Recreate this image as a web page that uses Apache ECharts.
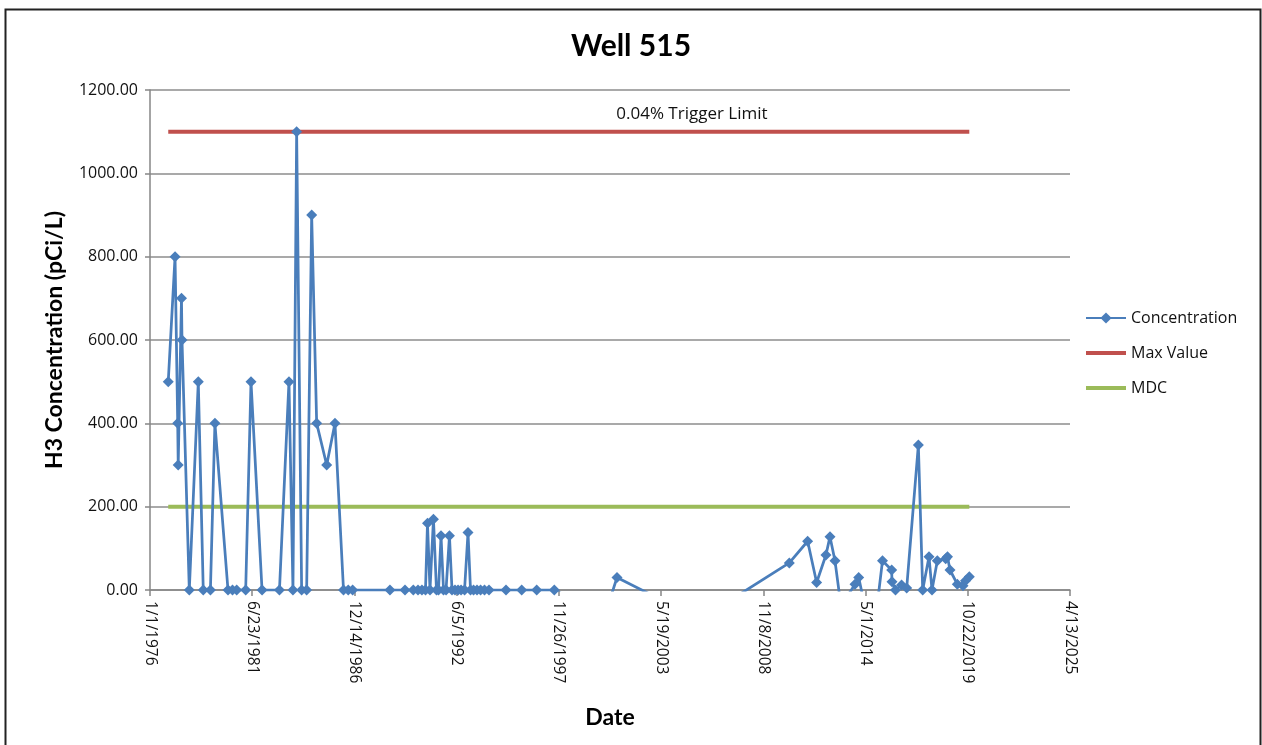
<!DOCTYPE html>
<html>
<head>
<meta charset="utf-8">
<script src="https://cdn.jsdelivr.net/npm/echarts@6/dist/echarts.min.js"></script>
<style>
html,body{margin:0;padding:0;background:#fff;}
#chart{width:1262px;height:745px;}
</style>
</head>
<body>
<div id="chart"></div>
<script>
// ---- data ----
const sampleDates = [
 "1976-12-23","1977-05-05","1977-06-26","1977-07-06","1977-09-08","1977-09-18","1978-02-08","1978-08-03","1978-11-08","1979-03-28",
 "1979-06-24","1980-03-06","1980-06-02","1980-08-23","1981-02-15","1981-05-30","1982-01-01","1982-12-08","1983-06-12","1983-08-29",
 "1983-11-09","1984-02-15","1984-05-23","1984-08-29","1984-12-05","1985-06-19","1985-11-28","1986-05-14","1986-08-15","1986-11-09",
 "1988-11-08","1989-08-29","1990-02-08","1990-05-10","1990-07-27","1990-10-04","1990-11-12","1990-12-31","1991-03-09","1991-05-07",
 "1991-06-16","1991-08-04","1991-09-22","1991-11-10","1992-01-16","1992-03-06","1992-05-04","1992-07-02","1992-08-30","1992-11-06",
 "1993-01-13","1993-03-03","1993-05-01","1993-07-08","1993-09-15","1993-12-02","1994-02-28","1995-01-26","1995-11-29","1996-09-18",
 "1997-08-28","2000-05-16","2001-01-06","2003-04-26","2005-06-18","2007-01-25","2010-03-31","2011-03-25","2011-09-17","2012-03-17",
 "2012-06-04","2012-09-10","2013-01-06","2013-04-14","2013-10-07","2013-12-18","2014-04-01","2014-11-22","2015-03-28","2015-09-24",
 "2015-09-30","2015-12-08","2016-04-04","2016-07-14","2017-02-27","2017-05-23","2017-09-23","2017-11-21","2018-03-05","2018-08-16",
 "2018-09-20","2018-11-08","2019-03-31","2019-07-21","2019-09-08","2019-11-21"
];
const concentration = [
 500,800,400,300,700,600,0,500,0,0,
 400,0,0,0,0,500,0,0,500,0,
 1100,0,0,900,400,300,400,0,0,0,
 0,0,0,0,0,0,160,0,170,0,
 0,130,0,0,130,0,0,0,0,0,
 138,0,0,0,0,0,0,0,0,0,
 0,-60,30,-22,-30,-25,65,117,18,84,
 128,70,-40,-20,14,30,-30,-60,70,48,
 20,0,12,5,348,0,80,0,70,75,
 80,48,14,10,22,32
];
const maxValue = 1100;
const mdcValue = 200;
const seriesNames = ["Concentration", "Max Value", "MDC"];
const triggerLabel = "0.04% Trigger Limit";
const triggerLabelDate = "2005-01-11";
const axisStart = "1976-01-01";
const axisSpanDays = 18000;
const axisStepDays = 2000;
const yTicks = {min: 0, max: 1200, step: 200};

// ---- helpers ----
function toUTC(s){const p=s.split("-").map(Number);return Date.UTC(p[0],p[1]-1,p[2]);}
const base = toUTC(axisStart);
function dayOff(s){return Math.round((toUTC(s)-base)/86400000);}
function fmtDay(v){const d=new Date(base+v*86400000);return (d.getUTCMonth()+1)+"/"+d.getUTCDate()+"/"+d.getUTCFullYear();}

const concData = sampleDates.map((d,i)=>[dayOff(d), concentration[i]]);
const firstX = dayOff(sampleDates[0]);
const lastX = dayOff(sampleDates[sampleDates.length-1]);
const maxData = [[firstX,maxValue],[lastX,maxValue]];
const mdcData = [[firstX,mdcValue],[lastX,mdcValue]];

// plain thick line legend icon (tiny end segments keep the bounding box 40x14)
const LINE_ICON = 'path://M0,0L0.01,0M0,5L40,5L40,9L0,9ZM0,14L0.01,14';

const FONT = "'Open Sans', Lato, sans-serif";
const BFONT = "Lato, 'Open Sans', sans-serif";
const chart = echarts.init(document.getElementById('chart'), null, {renderer:'canvas'});
chart.setOption({
  animation:false,
  backgroundColor:'#fff',
  graphic:[{type:'rect',left:3,top:7,shape:{width:1255,height:760},style:{fill:'none',stroke:'#222',lineWidth:2},silent:true,z:-1}],
  title:{text:'Well 515',left:'center',top:26,textStyle:{fontFamily:BFONT,fontSize:30,fontWeight:'bold',color:'#000'}},
  legend:{
    data:[{name:seriesNames[0]},{name:seriesNames[1],icon:LINE_ICON},{name:seriesNames[2],icon:LINE_ICON}],
    orient:'vertical', left:1080, top:305, itemGap:19, itemWidth:40, itemHeight:14,
    textStyle:{fontFamily:FONT,fontSize:16,color:'#111'}
  },
  grid:{left:150,right:192,top:90,bottom:155,containLabel:false},
  xAxis:{
    type:'value', min:0, max:axisSpanDays, interval:axisStepDays,
    name:'Date', nameLocation:'middle', nameGap:116,
    nameTextStyle:{fontFamily:BFONT,fontSize:23,fontWeight:'bold',color:'#000'},
    axisLine:{show:true,lineStyle:{color:'#868686',width:1.5}},
    axisTick:{show:true,inside:false,length:6,lineStyle:{color:'#868686',width:1.5}},
    axisLabel:{rotate:-90,margin:11,fontFamily:FONT,fontSize:15.5,color:'#111',formatter:fmtDay},
    splitLine:{show:false}
  },
  yAxis:{
    type:'value', min:yTicks.min, max:yTicks.max, interval:yTicks.step,
    name:'H3 Concentration (pCi/L)', nameLocation:'middle', nameGap:84, nameRotate:90,
    nameTextStyle:{fontFamily:BFONT,fontSize:23,fontWeight:'bold',color:'#000'},
    axisLine:{show:true,lineStyle:{color:'#868686',width:1.5}},
    axisTick:{show:true,length:5,lineStyle:{color:'#868686',width:1.5}},
    axisLabel:{margin:12,fontFamily:FONT,fontSize:16,color:'#111',formatter:v=>v.toFixed(2)},
    splitLine:{show:true,lineStyle:{color:'#8c8c8c',width:1.5}}
  },
  series:[
    {name:seriesNames[1],type:'line',data:maxData,symbol:'none',lineStyle:{color:'#C0504D',width:4},itemStyle:{color:'#C0504D'},z:2,
     markPoint:{symbol:'circle',symbolSize:0,data:[{coord:[dayOff(triggerLabelDate),maxValue]}],
       label:{show:true,position:'top',distance:9,formatter:triggerLabel,fontFamily:FONT,fontSize:17,color:'#111'}}},
    {name:seriesNames[2],type:'line',data:mdcData,symbol:'none',lineStyle:{color:'#9BBB59',width:4},itemStyle:{color:'#9BBB59'},z:2},
    {name:seriesNames[0],type:'line',data:concData,clip:true,symbol:'diamond',symbolSize:11,showAllSymbol:true,
     lineStyle:{color:'#4A7EBB',width:2.75},itemStyle:{color:'#4A7EBB'},z:3}
  ]
});
</script>
</body>
</html>
